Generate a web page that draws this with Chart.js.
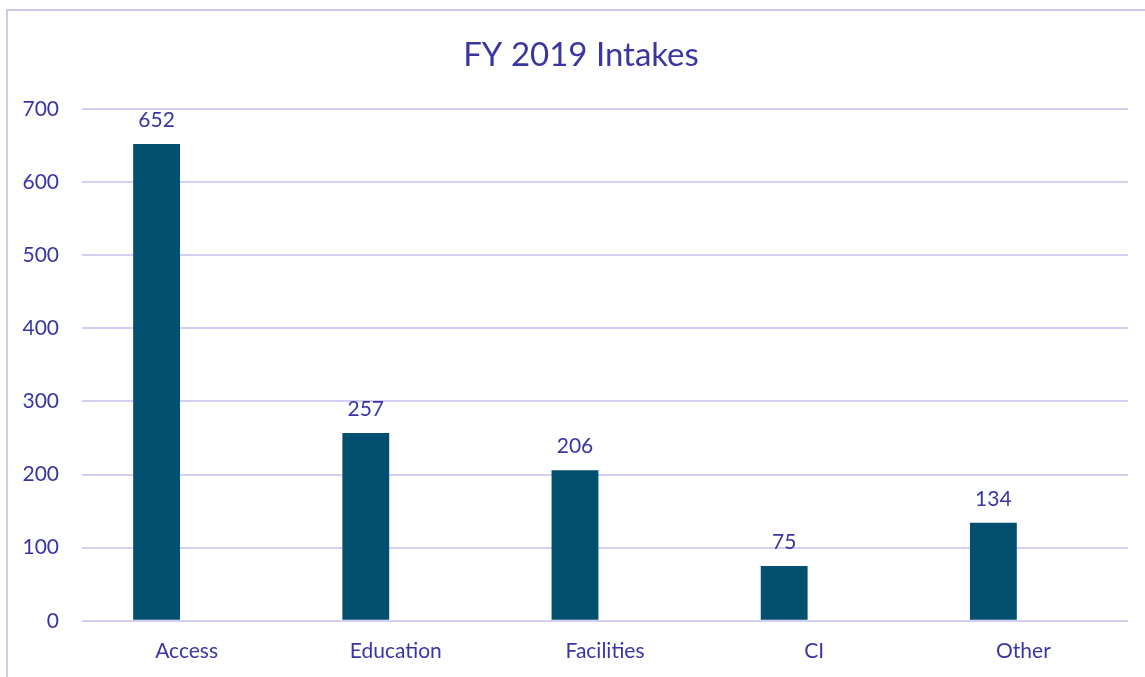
<!DOCTYPE html>
<html>
<head>
<meta charset="utf-8">
<script src="https://cdn.jsdelivr.net/npm/chart.js@4"></script>
<style>
  html, body { margin: 0; padding: 0; background: #fff; }
  #wrap { width: 1145px; height: 677px; position: relative; }
</style>
</head>
<body>
<div id="wrap"><canvas id="myChart" width="1145" height="677"></canvas></div>
<script>
const categories = ["Access", "Education", "Facilities", "CI", "Other"];
const intakes = [652, 257, 206, 75, 134];
// the source chart keeps an empty second series slot, which pushes bars left
const emptySeries = [0, 0, 0, 0, 0];
const yTicks = [0, 100, 200, 300, 400, 500, 600, 700];
const chartTitle = "FY 2019 Intakes";

const textColor = "#3b35a3";
const fontFamily = "Lato, 'Open Sans', sans-serif";

// frame and title; title is centred on the frame, not the plot
const framePlugin = {
	id: "frame",
	beforeDraw: (chart) => {
		const c = chart.ctx;
		c.save();
		c.strokeStyle = "#cdc9f1";
		c.lineWidth = 2;
		c.beginPath();
		c.moveTo(7, chart.height + 2);
		c.lineTo(7, 10);
		c.lineTo(chart.width + 2, 10);
		c.stroke();
		c.fillStyle = textColor;
		c.font = `33px ${fontFamily}`;
		c.textAlign = "center";
		c.textBaseline = "middle";
		c.fillText(chartTitle, 581, 55);
		c.restore();
	},
};

// value labels above the bars
const valueLabels = {
	id: "valueLabels",
	afterDatasetsDraw: (chart) => {
		const c = chart.ctx;
		c.save();
		c.fillStyle = textColor;
		c.font = `21px ${fontFamily}`;
		c.textAlign = "center";
		c.textBaseline = "alphabetic";
		chart.getDatasetMeta(0).data.forEach((bar, i) => {
			c.fillText(String(intakes[i]), bar.x, bar.y - 17);
		});
		c.restore();
	},
};

const ctx = document.getElementById("myChart").getContext("2d");
const myChart = new Chart(ctx, {
	type: "bar",
	data: {
		labels: categories,
		datasets: [
			{
				label: "Intakes",
				data: intakes,
				backgroundColor: "#024f70",
				borderWidth: 0,
			},
			{
				label: "",
				data: emptySeries,
				backgroundColor: "rgba(0,0,0,0)",
				borderWidth: 0,
			},
		],
	},
	options: {
		responsive: false,
		animation: false,
		datasets: {
			bar: { categoryPercentage: 0.574, barPercentage: 0.78 },
		},
		layout: { padding: { top: 109, left: 0, right: 17, bottom: -5 } },
		plugins: {
			legend: { display: false },
			tooltip: { enabled: false },
			title: { display: false },
		},
		scales: {
			x: {
				grid: { display: false, drawTicks: false },
				border: { display: false },
				ticks: {
					color: textColor,
					font: { family: fontFamily, size: 21 },
					padding: 18,
				},
			},
			y: {
				min: 0,
				max: 700,
				afterBuildTicks: (scale) => {
					scale.ticks = yTicks.map((v) => ({ value: v }));
				},
				afterFit: (scale) => {
					scale.width = 82;
				},
				grid: { color: "#d3cff4", lineWidth: 2, drawTicks: false },
				border: { display: false },
				ticks: {
					color: textColor,
					font: { family: fontFamily, size: 21 },
					padding: 23,
				},
			},
		},
	},
	plugins: [framePlugin, valueLabels],
});
</script>
</body>
</html>
